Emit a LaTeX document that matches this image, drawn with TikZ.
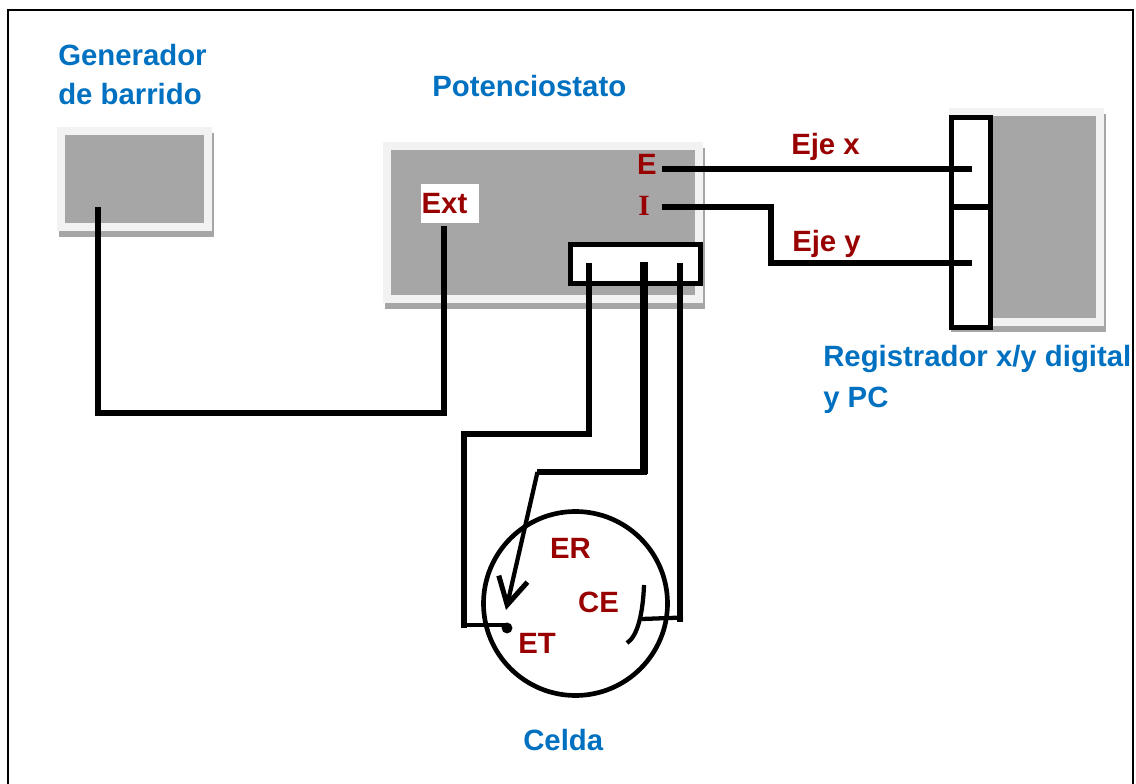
\documentclass[tikz,border=0pt]{standalone}
\usepackage{xcolor}
\usepackage{fontspec}
\setmainfont{Liberation Sans}
\newfontfamily\serifbold{Liberation Serif}
\usetikzlibrary{arrows.meta}
\definecolor{titleblue}{HTML}{0070C0}
\definecolor{labelred}{HTML}{990000}
\definecolor{panelgray}{HTML}{A6A6A6}
\definecolor{panellight}{HTML}{F2F2F2}
\tikzset{
	boxlayer/.style={inner sep=0pt,outer sep=0pt,anchor=north west},
	title/.style={text=titleblue,font={\fontsize{22}{26}\selectfont\bfseries},anchor=base west,inner sep=0pt},
	tag/.style={text=labelred,font={\fontsize{22}{26}\selectfont\bfseries},anchor=base,inner sep=0pt},
	wire/.style={line width=4.9pt,line join=miter},
	thinwire/.style={line width=3.2pt},
	socket/.style={draw,fill=white,line width=4pt,inner sep=0pt,outer sep=0pt,anchor=north west}
}
\begin{document}
\begin{tikzpicture}[>=Stealth,x=0.75pt,y=-0.75pt]
	\useasboundingbox (0,0) rectangle (1136,784);
	\draw[line width=1.5pt] (8,790)--(8,10)--(1133,10)--(1133,790);

	\foreach \name/\xa/\ya/\xb/\yb/\xc/\yc in {gen/57/127/212/231/65/135,pot/383/142/703/303/391/150,reg/949/108/1104/326/992/116}{
		\pgfmathsetmacro{\wid}{(\xb-\xa)*0.75}
		\pgfmathsetmacro{\hei}{(\yb-\ya)*0.75}
		\pgfmathsetmacro{\widin}{(\xb-\xa-(\xc-\xa)-8)*0.75}
		\pgfmathsetmacro{\heiin}{(\yb-\ya-16)*0.75}
		\node[boxlayer,fill=panelgray,minimum width=\wid pt,minimum height=\hei pt] (\name s) at (\xa+2,\ya+6) {};
		\node[boxlayer,fill=panellight,minimum width=\wid pt,minimum height=\hei pt] (\name) at (\xa,\ya) {};
		\node[boxlayer,fill=panelgray,minimum width=\widin pt,minimum height=\heiin pt] (\name i) at (\xc,\yc) {};
	}

	\node[boxlayer,fill=white,minimum width=43.5pt,minimum height=29.25pt] (ext) at (421,184) {};
	\node[socket,minimum width=97.5pt,minimum height=29.25pt] (cells) at (570.5,244.5) {};
	\node[socket,minimum width=29.25pt,minimum height=157.5pt] (plot) at (951.5,117.5) {};
	\draw[line width=4pt] (plot.west |- 0,207)--(plot.east |- 0,207);

	\node[line width=3.5pt,draw,circle,inner sep=0pt,outer sep=0pt,minimum size=138pt] (celda) at (575.5,603.5) {};
	\node[fill,circle,inner sep=0pt,minimum size=8.2pt] (et) at (507,628) {};

	% puntos libres de los cables
	\coordinate (genpin) at (98,207);
	\coordinate (extpin) at (444,226);
	\coordinate (epin) at (662,169);
	\coordinate (ipin) at (662,207);
	\coordinate (eend) at (972,169);
	\coordinate (iend) at (972,263);
	\coordinate (cpa) at (589,263);
	\coordinate (cpb) at (644,262);
	\coordinate (cpc) at (680,263);
	\coordinate (ertip) at (506,610);
	\coordinate (cetop) at (644,585);
	\coordinate (cemid) at (642,619);
	\coordinate (cebot) at (627,643);

	\draw[wire] (genpin)--(98,413)--(444,413)--(extpin);
	\draw[wire] (epin)--(eend);
	\draw[line width=4.2pt] (ipin)--(771,207)--(771,263)--(iend);
	\draw[wire] (cpa)--(589,434)--(464,434);
	\draw[line width=4pt,line cap=rect] (464,434)--(464,625);
	\draw[line width=3.2pt] (464,625)--(et.center |- 0,625);
	\draw[line width=5.4pt] (cpb)--(644,474);
	\draw[line width=4pt] (646.5,472)--(537,472);
	\draw[thinwire,-{Straight Barb[length=20pt,width=22pt,line width=3.8pt]}] (537.5,472)--(ertip);
	\draw[wire] (cpc)--(680,622);
	\draw[thinwire] (683,617.5)--(cemid);
	\draw[thinwire] (cetop)..controls (643,612) and (638,636)..(cebot);

	\node[title] (tgen) at (58,66) {Generador};
	\node[title] (tgenb) at (58,105) {de barrido};
	\node[title] (tpot) at (432,97) {Potenciostato};
	\node[title] (treg) at (823,367) {Registrador x/y digital};
	\node[title] (tregb) at (823,407) {y PC};
	\node[title] (tcel) at (523,750) {Celda};

	\node[tag] (lext) at (444.5,214) {Ext};
	\node[tag] (le) at (647,175) {E};
	\node[tag,font={\fontsize{22}{26}\selectfont\serifbold\bfseries}] (li) at (644,216) {I};
	\node[tag] (lx) at (825.5,155) {Eje x};
	\node[tag] (ly) at (826.5,252) {Eje y};
	\node[tag] (ler) at (570.5,558) {ER};
	\node[tag] (lce) at (598.5,612) {CE};
	\node[tag] (let) at (537,653) {ET};
\end{tikzpicture}
\end{document}
